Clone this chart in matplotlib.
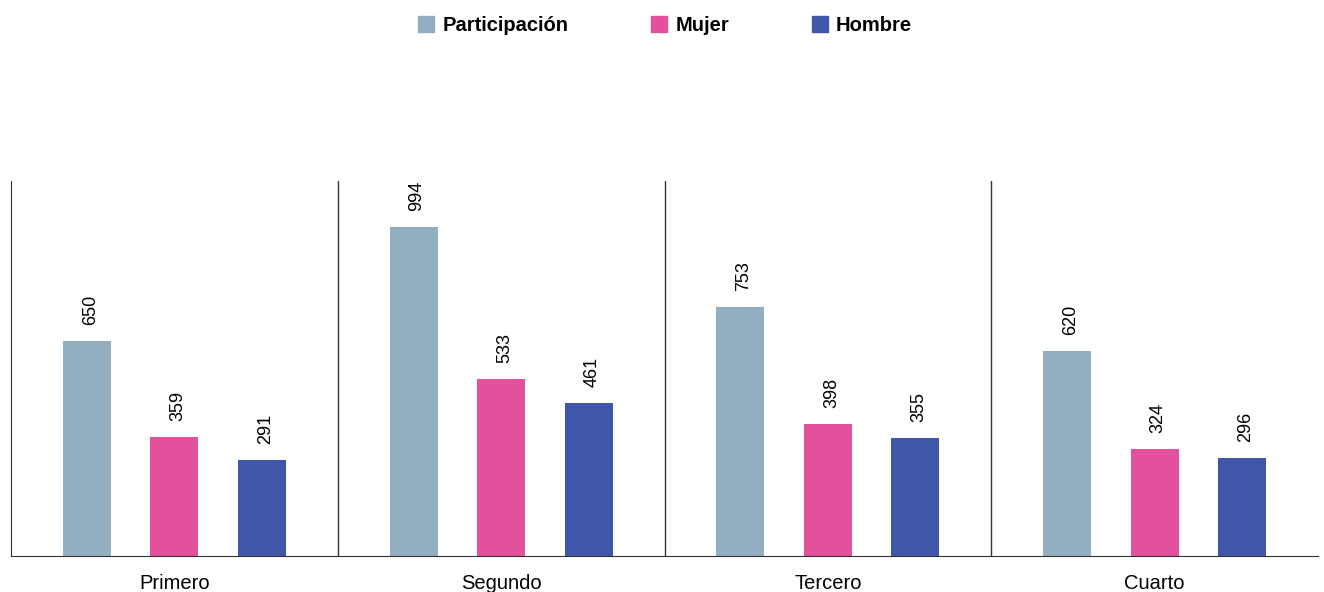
import numpy as np
import matplotlib.pyplot as plt
from matplotlib.lines import Line2D

plt.rcParams["font.family"] = ["Liberation Sans", "DejaVu Sans"]

trimestres = ["Primero", "Segundo", "Tercero", "Cuarto"]
series = ["Participación", "Mujer", "Hombre"]
participacion = [650, 994, 753, 620]
mujer = [359, 533, 398, 324]
hombre = [291, 461, 355, 296]
colores = ["#93AEC1", "#E3519C", "#4056A8"]

fig = plt.figure(figsize=(13.24, 5.92), dpi=100)
ax = fig.add_axes([0.0083, 0.0608, 0.9872, 0.6335])

x = np.arange(len(trimestres))
offsets = [-0.268, 0, 0.268]
width = 0.147
for vals, off, col in zip([participacion, mujer, hombre], offsets, colores):
    bars = ax.bar(x + off, vals, width=width, color=col)
    for b, v in zip(bars, vals):
        ax.annotate(str(v), (b.get_x() + b.get_width() / 2, v),
                    xytext=(2.5, 11.5), textcoords="offset points",
                    rotation=90, ha="center", va="bottom", fontsize=13)

ax.set_xlim(-0.5, 3.5)
ax.set_ylim(0, 1132)
for s in [0.5, 1.5, 2.5]:
    ax.axvline(s, color="#333333", lw=1)

ax.spines["top"].set_visible(False)
ax.spines["right"].set_visible(False)
ax.spines["left"].set_color("#333333")
ax.spines["bottom"].set_color("#333333")
ax.set_yticks([])
ax.set_xticks(x)
ax.set_xticklabels(trimestres, fontsize=14.5)
ax.tick_params(axis="x", length=0, pad=13)

handles = [Line2D([], [], marker="s", linestyle="none", markersize=11,
                  markerfacecolor=c, markeredgecolor=c) for c in colores]
fig.legend(handles, series, loc="center", bbox_to_anchor=(0.5015, 0.957),
           ncol=3, frameon=False, columnspacing=4, handletextpad=0.3,
           handlelength=1, prop={"size": 14.5, "weight": "bold"})

fig.savefig("out.png", dpi=100)
